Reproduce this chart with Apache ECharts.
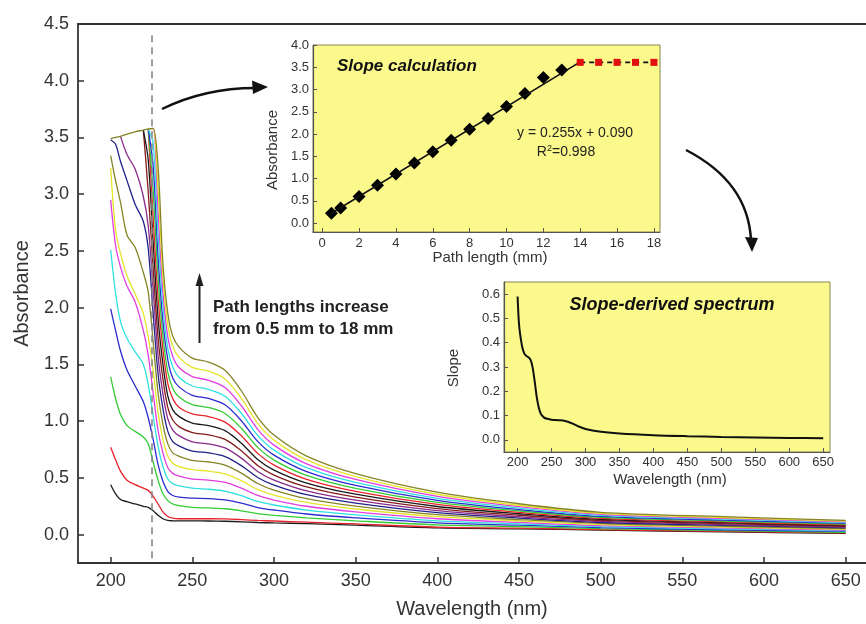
<!DOCTYPE html>
<html>
<head>
<meta charset="utf-8">
<script src="https://cdn.jsdelivr.net/npm/echarts@6.0.0/dist/echarts.min.js"></script>
<style>
  html, body { margin: 0; padding: 0; background: #fff; }
  #chart { width: 866px; height: 624px; }
</style>
</head>
<body>
<div id="chart"></div>
<script>
// wavelength grid (nm) shared by all absorbance curves
var wavelengths = [200, 203, 206, 210, 215, 220, 223, 226, 229, 232, 235, 238, 242, 250, 260, 270, 280, 290, 300, 320, 350, 400, 450, 500, 575, 650];

// absorbance curves, one per path length (null = saturated / not drawn)
var abs_0_5 = [0.44, 0.36, 0.31, 0.29, 0.27, 0.25, 0.24, 0.21, 0.17, 0.14, 0.125, 0.122, 0.121, 0.121, 0.12, 0.118, 0.113, 0.107, 0.103, 0.097, 0.083, 0.059, 0.051, 0.040, 0.024, 0.011];
var abs_1 = [0.77, 0.66, 0.56, 0.48, 0.44, 0.41, 0.39, 0.34, 0.27, 0.20, 0.16, 0.145, 0.14, 0.14, 0.14, 0.138, 0.132, 0.125, 0.12, 0.11, 0.094, 0.067, 0.057, 0.044, 0.028, 0.015];
var abs_2 = [1.39, 1.20, 1.06, 0.96, 0.91, 0.86, 0.80, 0.64, 0.48, 0.36, 0.30, 0.27, 0.255, 0.24, 0.235, 0.228, 0.21, 0.185, 0.17, 0.148, 0.122, 0.086, 0.070, 0.053, 0.035, 0.021];
var abs_3 = [1.99, 1.80, 1.62, 1.45, 1.31, 1.17, 1.03, 0.84, 0.62, 0.47, 0.38, 0.345, 0.33, 0.322, 0.318, 0.306, 0.278, 0.239, 0.217, 0.182, 0.148, 0.104, 0.083, 0.062, 0.043, 0.028];
var abs_4 = [2.51, 2.13, 1.88, 1.73, 1.61, 1.50, 1.32, 1.05, 0.78, 0.60, 0.49, 0.45, 0.43, 0.41, 0.40, 0.384, 0.344, 0.292, 0.261, 0.216, 0.174, 0.122, 0.095, 0.071, 0.051, 0.034];
var abs_5 = [2.95, 2.55, 2.36, 2.19, 2.05, 1.80, 1.58, 1.25, 0.92, 0.72, 0.59, 0.54, 0.515, 0.49, 0.48, 0.46, 0.41, 0.345, 0.305, 0.25, 0.20, 0.14, 0.108, 0.08, 0.059, 0.041];
var abs_6 = [3.23, 2.68, 2.48, 2.28, 2.12, 1.95, 1.74, 1.45, 1.08, 0.84, 0.69, 0.63, 0.60, 0.572, 0.56, 0.536, 0.476, 0.398, 0.349, 0.284, 0.226, 0.158, 0.121, 0.089, 0.066, 0.047];
var abs_7 = [3.34, 3.12, 2.93, 2.64, 2.53, 2.31, 2.14, 1.70, 1.25, 0.97, 0.80, 0.72, 0.69, 0.654, 0.64, 0.612, 0.542, 0.451, 0.393, 0.318, 0.252, 0.176, 0.133, 0.098, 0.074, 0.054];
var abs_8 = [3.48, 3.44, 3.29, 3.12, 2.91, 2.76, 2.52, 1.95, 1.42, 1.11, 0.91, 0.82, 0.78, 0.736, 0.72, 0.688, 0.608, 0.504, 0.437, 0.352, 0.278, 0.194, 0.146, 0.107, 0.082, 0.060];
var abs_9 = [null, null, 3.51, 3.35, 3.22, 2.98, 2.72, 2.16, 1.58, 1.24, 1.02, 0.92, 0.87, 0.818, 0.80, 0.764, 0.674, 0.557, 0.481, 0.386, 0.304, 0.212, 0.158, 0.116, 0.089, 0.067];
var abs_10 = [null, null, null, null, null, 3.565, 3.02, 2.35, 1.74, 1.37, 1.12, 1.01, 0.95, 0.90, 0.88, 0.84, 0.74, 0.61, 0.525, 0.42, 0.33, 0.23, 0.171, 0.125, 0.097, 0.073];
var abs_11 = [null, null, null, null, null, 3.565, 3.30, 2.58, 1.91, 1.50, 1.22, 1.10, 1.04, 0.982, 0.96, 0.916, 0.806, 0.663, 0.569, 0.454, 0.356, 0.248, 0.184, 0.134, 0.105, 0.080];
var abs_12 = [null, null, null, null, null, null, 3.575, 2.80, 2.09, 1.63, 1.33, 1.20, 1.12, 1.064, 1.04, 0.992, 0.872, 0.716, 0.613, 0.488, 0.382, 0.266, 0.196, 0.143, 0.112, 0.086];
var abs_13 = [null, null, null, null, null, null, 3.575, 3.03, 2.27, 1.75, 1.43, 1.29, 1.21, 1.146, 1.12, 1.068, 0.938, 0.769, 0.657, 0.522, 0.408, 0.284, 0.209, 0.152, 0.120, 0.093];
var abs_14 = [null, null, null, null, null, null, 3.575, 3.25, 2.45, 1.88, 1.54, 1.38, 1.30, 1.228, 1.20, 1.144, 1.004, 0.822, 0.701, 0.556, 0.434, 0.302, 0.221, 0.161, 0.128, 0.099];
var abs_15 = [null, null, null, null, null, null, 3.575, 3.45, 2.65, 2.01, 1.64, 1.48, 1.385, 1.31, 1.28, 1.22, 1.07, 0.875, 0.745, 0.59, 0.46, 0.32, 0.234, 0.17, 0.136, 0.106];
var abs_16 = [null, null, null, null, null, null, 3.575, 3.58, 2.85, 2.14, 1.74, 1.57, 1.47, 1.392, 1.36, 1.296, 1.136, 0.928, 0.789, 0.624, 0.486, 0.338, 0.247, 0.179, 0.143, 0.112];
var abs_17 = [null, null, null, null, null, null, 3.575, 3.58, 3.05, 2.27, 1.85, 1.66, 1.56, 1.474, 1.44, 1.372, 1.202, 0.981, 0.833, 0.658, 0.512, 0.356, 0.259, 0.188, 0.151, 0.119];
var abs_18 = [3.49, 3.50, 3.51, 3.53, 3.55, 3.565, 3.575, 3.58, 3.25, 2.39, 1.95, 1.75, 1.65, 1.556, 1.52, 1.448, 1.268, 1.034, 0.877, 0.692, 0.538, 0.374, 0.272, 0.197, 0.159, 0.125];

var curves = [abs_0_5, abs_1, abs_2, abs_3, abs_4, abs_5, abs_6, abs_7, abs_8, abs_9,
  abs_10, abs_11, abs_12, abs_13, abs_14, abs_15, abs_16, abs_17, abs_18];
var pathLengths = [0.5, 1, 2, 3, 4, 5, 6, 7, 8, 9, 10, 11, 12, 13, 14, 15, 16, 17, 18];
// origin-style colour cycle
var curveColors = ['#1a1a1a', '#e8222a', '#34cc34', '#2b2bcf', '#30e0e0', '#e03ee0', '#e4e42c', '#858528',
  '#22228a', '#8a2a8a', '#841c1c', '#1a1a1a', '#e8222a', '#34cc34', '#2b2bcf', '#30e0e0', '#e03ee0', '#e4e42c', '#858528'];

var xTicks = [200, 250, 300, 350, 400, 450, 500, 550, 600, 650];
var yTicksMain = [0, 0.5, 1, 1.5, 2, 2.5, 3, 3.5, 4, 4.5];

// inset 1: absorbance at 225 nm vs path length
var fitPathLen = [0.5, 1, 2, 3, 4, 5, 6, 7, 8, 9, 10, 11, 12, 13];
var fitAbs = [0.22, 0.34, 0.60, 0.85, 1.10, 1.35, 1.60, 1.86, 2.11, 2.35, 2.62, 2.91, 3.27, 3.44];
var fitLineX = [0.5, 14];
var fitLineY = [0.22, 3.62];
var satPathLen = [14, 15, 16, 17, 18];
var satAbs = [3.61, 3.61, 3.61, 3.61, 3.61];
var inset1XTicks = [0, 2, 4, 6, 8, 10, 12, 14, 16, 18];
var inset1YTicks = [0, 0.5, 1, 1.5, 2, 2.5, 3, 3.5, 4];

// inset 2: slope-derived spectrum
var slopeWl = [200, 202, 204, 207, 210, 213, 216, 219, 222, 225, 228, 231, 234, 237, 240, 245, 250, 260, 270, 280, 290, 300, 320, 350, 400, 450, 500, 550, 600, 650];
var slopeVal = [0.59, 0.48, 0.43, 0.38, 0.355, 0.345, 0.34, 0.33, 0.30, 0.245, 0.18, 0.135, 0.108, 0.097, 0.09, 0.086, 0.083, 0.081, 0.078, 0.068, 0.055, 0.045, 0.034, 0.026, 0.019, 0.015, 0.012, 0.010, 0.008, 0.007];
var inset2YTicks = [0, 0.1, 0.2, 0.3, 0.4, 0.5, 0.6];

var FONT = 'Liberation Sans, Arial, sans-serif';
var chart = echarts.init(document.getElementById('chart'), null, { renderer: 'canvas' });

var series = [];
for (var c = 0; c < curves.length; c++) {
  var pts = [];
  for (var i = 0; i < wavelengths.length; i++) {
    if (curves[c][i] != null) pts.push([wavelengths[i], curves[c][i]]);
  }
  series.push({
    name: pathLengths[c] + ' mm',
    type: 'line',
    xAxisIndex: 0, yAxisIndex: 0,
    data: pts,
    smooth: 0.3,
    symbol: 'none',
    lineStyle: { color: curveColors[c], width: 1.3 },
    z: 2
  });
}
// dashed line at 225 nm
series[0].markLine = {
  silent: true,
  symbol: ['none', 'none'],
  label: { show: false },
  lineStyle: { color: '#888', type: [7, 5], width: 1.6 },
  data: [[{ coord: [225, 4.4] }, { coord: [225, -0.25] }]]
};

function zip(a, b) { return a.map(function (v, i) { return [v, b[i]]; }); }

series.push({
  type: 'line', xAxisIndex: 2, yAxisIndex: 2,
  data: zip(fitLineX, fitLineY),
  symbol: 'none',
  lineStyle: { color: '#111', width: 1.6 }
});
series.push({
  type: 'scatter', xAxisIndex: 2, yAxisIndex: 2,
  data: zip(fitPathLen, fitAbs),
  symbol: 'diamond', symbolSize: 13,
  itemStyle: { color: '#000', opacity: 1 }
});
series.push({
  type: 'line', xAxisIndex: 2, yAxisIndex: 2,
  data: zip(satPathLen, satAbs),
  symbol: 'rect', symbolSize: 7, showSymbol: true,
  itemStyle: { color: '#e01010' },
  lineStyle: { color: '#111', width: 1.6, type: [5, 4] }
});
series.push({
  type: 'line', xAxisIndex: 3, yAxisIndex: 3,
  data: zip(slopeWl, slopeVal),
  smooth: 0.3,
  symbol: 'none',
  lineStyle: { color: '#111', width: 2 }
});

function fmt1(v) { return v.toFixed(1); }

var mainAxisLine = { show: true, onZero: false, lineStyle: { color: '#333', width: 1.8 } };
var insetAxisLine = { show: true, onZero: false, lineStyle: { color: '#555', width: 1.2 } };
var labelMain = { color: '#333', fontSize: 18, fontFamily: FONT };
var labelInset = { color: '#333', fontSize: 13, fontFamily: FONT };

var option = {
  animation: false,
  backgroundColor: '#fff',
  grid: [
    { left: 78, top: 24, width: 788, height: 542 },
    { left: 313, top: 45, width: 347, height: 187, show: true, backgroundColor: '#fcf98c', borderColor: '#8a8454', borderWidth: 1 },
    { left: 504, top: 282, width: 326, height: 170, show: true, backgroundColor: '#fcf98c', borderColor: '#8a8454', borderWidth: 1 }
  ],
  xAxis: [
    {
      gridIndex: 0, type: 'value', min: 180, max: 662.45,
      name: 'Wavelength (nm)', nameLocation: 'middle', nameGap: 36,
      nameTextStyle: { fontSize: 20, color: '#333', fontFamily: FONT },
      axisLine: mainAxisLine,
      axisTick: { inside: true, length: 6, customValues: xTicks, lineStyle: { color: '#333', width: 1.5 } },
      axisLabel: Object.assign({ customValues: xTicks, margin: 9 }, labelMain),
      splitLine: { show: false }
    },
    {
      gridIndex: 0, type: 'value', min: 180, max: 662.45, position: 'top',
      axisLine: mainAxisLine, axisTick: { show: false }, axisLabel: { show: false }, splitLine: { show: false }
    },
    {
      gridIndex: 1, type: 'value', min: -0.5, max: 18.33,
      axisLine: insetAxisLine,
      axisTick: { inside: true, length: 4, customValues: inset1XTicks, lineStyle: { color: '#555' } },
      axisLabel: Object.assign({ customValues: inset1XTicks, margin: 5 }, labelInset),
      splitLine: { show: false }
    },
    {
      gridIndex: 2, type: 'value', min: 180, max: 660,
      axisLine: insetAxisLine,
      axisTick: { inside: true, length: 4, customValues: xTicks, lineStyle: { color: '#555' } },
      axisLabel: Object.assign({ customValues: xTicks, margin: 4 }, labelInset),
      splitLine: { show: false }
    }
  ],
  yAxis: [
    {
      gridIndex: 0, type: 'value', min: -0.25, max: 4.5,
      name: 'Absorbance', nameLocation: 'middle', nameGap: 46,
      nameTextStyle: { fontSize: 20, color: '#333', fontFamily: FONT },
      axisLine: mainAxisLine,
      axisTick: { inside: true, length: 6, customValues: yTicksMain, lineStyle: { color: '#333', width: 1.5 } },
      axisLabel: Object.assign({ customValues: yTicksMain, margin: 9, formatter: fmt1 }, labelMain),
      splitLine: { show: false }
    },
    {
      gridIndex: 0, type: 'value', show: false, min: -0.25, max: 4.5
    },
    {
      gridIndex: 1, type: 'value', min: -0.2, max: 4.0,
      axisLine: insetAxisLine,
      axisTick: { inside: true, length: 4, customValues: inset1YTicks, lineStyle: { color: '#555' } },
      axisLabel: Object.assign({ customValues: inset1YTicks, margin: 4, formatter: fmt1 }, labelInset),
      splitLine: { show: false }
    },
    {
      gridIndex: 2, type: 'value', min: -0.05, max: 0.65,
      axisLine: insetAxisLine,
      axisTick: { inside: true, length: 4, customValues: inset2YTicks, lineStyle: { color: '#555' } },
      axisLabel: Object.assign({ customValues: inset2YTicks, margin: 4, formatter: fmt1 }, labelInset),
      splitLine: { show: false }
    }
  ],
  series: series,
  graphic: [
    // inset titles and annotations
    { type: 'text', x: 337, y: 66, style: { text: 'Slope calculation', font: 'italic bold 17px ' + FONT, fill: '#111', verticalAlign: 'middle' }, z: 10 },
    { type: 'text', x: 672, y: 305, style: { text: 'Slope-derived spectrum', font: 'italic bold 18px ' + FONT, fill: '#111', align: 'center', verticalAlign: 'middle' }, z: 10 },
    { type: 'text', x: 575, y: 133, style: { text: 'y = 0.255x + 0.090', font: '14px ' + FONT, fill: '#222', align: 'center', verticalAlign: 'middle' }, z: 10 },
    {
      type: 'text', x: 566, y: 152, z: 10,
      style: {
        text: '{a|R}{s|2}{a|=0.998}', align: 'center', verticalAlign: 'middle',
        rich: {
          a: { font: '14px ' + FONT, fill: '#222' },
          s: { font: '9px ' + FONT, fill: '#222', verticalAlign: 'top', padding: [0, 0, 6, 0] }
        }
      }
    },
    { type: 'text', x: 273, y: 150, rotation: Math.PI / 2, style: { text: 'Absorbance', font: '15px ' + FONT, fill: '#333', align: 'center', verticalAlign: 'middle' }, z: 10 },
    { type: 'text', x: 490, y: 258, style: { text: 'Path length (mm)', font: '15px ' + FONT, fill: '#333', align: 'center', verticalAlign: 'middle' }, z: 10 },
    { type: 'text', x: 454, y: 368, rotation: Math.PI / 2, style: { text: 'Slope', font: '15px ' + FONT, fill: '#333', align: 'center', verticalAlign: 'middle' }, z: 10 },
    { type: 'text', x: 670, y: 480, style: { text: 'Wavelength (nm)', font: '15px ' + FONT, fill: '#333', align: 'center', verticalAlign: 'middle' }, z: 10 },
    // main annotation
    { type: 'text', x: 213, y: 307, style: { text: 'Path lengths increase', font: 'bold 17px ' + FONT, fill: '#222', verticalAlign: 'middle' }, z: 10 },
    { type: 'text', x: 213, y: 329, style: { text: 'from 0.5 mm to 18 mm', font: 'bold 17px ' + FONT, fill: '#222', verticalAlign: 'middle' }, z: 10 },
    // up arrow
    { type: 'line', shape: { x1: 199.5, y1: 343, x2: 199.5, y2: 284 }, style: { stroke: '#222', lineWidth: 2 }, z: 10 },
    { type: 'polygon', shape: { points: [[199.5, 273], [195.5, 286], [203.5, 286]] }, style: { fill: '#222' }, z: 10 },
    // curved arrows
    { type: 'bezierCurve', shape: { x1: 162, y1: 109, cpx1: 205, cpy1: 88, x2: 255, y2: 88 }, style: { stroke: '#111', lineWidth: 2.5, fill: null }, z: 10 },
    { type: 'polygon', shape: { points: [[268, 87], [252, 80.5], [253, 94]] }, style: { fill: '#111' }, z: 10 },
    { type: 'bezierCurve', shape: { x1: 686, y1: 150, cpx1: 748, cpy1: 182, x2: 751, y2: 240 }, style: { stroke: '#111', lineWidth: 2.5, fill: null }, z: 10 },
    { type: 'polygon', shape: { points: [[752, 252], [745, 237], [758, 238]] }, style: { fill: '#111' }, z: 10 }
  ]
};

chart.setOption(option);
</script>
</body>
</html>
